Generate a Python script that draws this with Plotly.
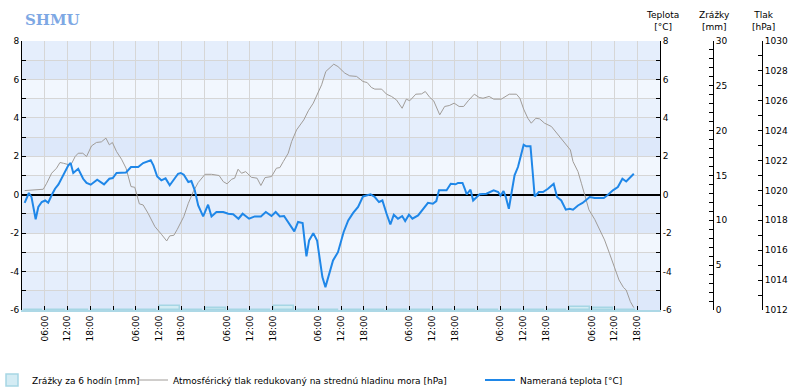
import plotly.graph_objects as go

# ---------------- data ----------------
temp_hours = [0.7, 1.8, 2.5, 3.2, 3.6, 4.3, 5.2, 6.1, 6.9, 7.8, 8.7, 9.6, 10.4, 11.3, 12.2, 12.8, 13.5, 14.8,
              16.1, 17, 18.1, 19.8, 21.6, 23, 23.9, 24.9, 27.4, 28.7, 30.6, 31.9, 33.9, 34.6, 35.6, 36.7, 37.8,
              38.9, 40, 41.1, 41.8, 42.6, 43.8, 44.6, 45.5, 46.4, 47.7, 49, 49.9, 51.2, 53, 54.3, 55.6, 57,
              58.1, 59.8, 61.3, 62.9, 64.2, 65.7, 66.8, 67.9, 69, 70.1, 71.7, 72.7, 73.9, 74.5, 74.9, 75.6,
              76.7, 77.7, 78.4, 79.1, 79.9, 80.9, 81.9, 83.2, 83.8, 84.7, 85.9, 87.2, 88.5, 89.8, 91.8, 92.9,
              94, 94.9, 96, 97, 97.9, 99, 100.1, 100.9, 101.9, 102.8, 104.3, 105.6, 106.9, 108.2, 109.1,
              109.8, 111.8, 112.9, 114.2, 114.8, 116, 116.6, 117.1, 118.1, 118.8, 120.5, 122.3, 124.2, 125.4,
              126.0, 126.8, 127.4, 128.2, 128.9, 129.7, 130.6, 131.5, 132.1, 132.8, 133.9, 134.4, 135, 136.1,
              137.2, 138.5, 140, 140.9, 142, 143.2, 144.2, 145.1, 146.4, 147.6, 149.5, 150.8, 153.2, 154.3,
              155.6, 156.9, 158.1, 159.1, 160.2, 161.1]
temp_values = [-0.42, 0.09, -0.12, -0.82, -1.28, -0.64, -0.38, -0.3, -0.42, -0.03, 0.31, 0.54, 0.83, 1.18,
               1.53, 1.65, 1.13, 1.35, 0.83, 0.61, 0.52, 0.78, 0.54, 0.83, 0.87, 1.13, 1.16, 1.44, 1.44, 1.65,
               1.79, 1.53, 0.95, 0.75, 0.85, 0.49, 0.78, 1.09, 1.13, 1.04, 0.66, 0.71, 0.23, -0.56, -1.13,
               -0.52, -1.13, -0.9, -0.9, -0.99, -1.02, -1.25, -0.99, -1.25, -1.13, -1.13, -0.9, -1.11, -0.9,
               -1.13, -1.11, -1.42, -1.91, -1.42, -1.48, -2.55, -3.21, -2.38, -2.0, -2.38, -3.42, -4.29, -4.81,
               -4.11, -3.42, -2.99, -2.6, -1.94, -1.34, -0.95, -0.64, -0.09, 0.02, -0.12, -0.38, -0.3, -0.99,
               -1.55, -1.04, -1.25, -1.11, -1.37, -1.04, -1.25, -1.08, -0.73, -0.42, -0.47, -0.33, 0.23, 0.23,
               0.57, 0.54, 0.61, 0.61, 0.31, 0.02, 0.26, -0.3, 0.02, 0.05, 0.23, 0.14, -0.05, 0.19, -0.12,
               -0.73, 0.09, 1.01, 1.44, 2.22, 2.6, 2.52, 2.52, 1.35, -0.09, 0.14, 0.14, 0.31, 0.57, -0.12,
               -0.3, -0.78, -0.73, -0.78, -0.56, -0.43, -0.12, -0.17, -0.17, 0.0, 0.23, 0.4, 0.83, 0.69,
               0.92, 1.09]

pres_hours = [0.7, 2.5, 5.6, 6.5, 7.8, 9.1, 10, 10.9, 12.5, 13.1, 14, 14.8, 16, 17, 18.3, 19.6, 20.9, 22.1,
              23, 23.8, 24.9, 26.2, 27.4, 28.7, 29.7, 30.9, 31.9, 33.2, 35, 36.7, 38.1, 38.9, 40, 40.9, 42,
              42.6, 43.8, 45.1, 46.4, 48.2, 49.9, 51.9, 53, 54, 55.2, 56, 56.9, 57.8, 58.9, 60.4, 61.9,
              62.9, 64, 65.7, 67, 67.9, 68.8, 70.1, 71, 72.3, 74.2, 75.4, 76.7, 77.7, 78.9, 80, 81.1, 82.1,
              83.2, 84.1, 85, 86.3, 88.1, 89.8, 90.9, 92, 92.9, 94.7, 96, 97.3, 98.6, 100.1, 101.2, 102.1,
              103.7, 105.2, 106.2, 107.4, 108.4, 110, 111.3, 112.5, 113.8, 115.1, 116.3, 117.5, 119.1,
              120.4, 121.4, 123, 124.2, 126.2, 127.1, 128.3, 130.2, 131.1, 132.1, 133.2, 134.1, 135.3,
              136.3, 137.6, 139.4, 140.7, 142, 143.3, 144.4, 145.1, 146.4, 147.3, 148.4, 149.3, 150.8,
              152.1, 153.4, 154.7, 156, 157.2, 158.4, 159.1, 160.2, 161.1]
pres_values = [1019.99, 1020.04, 1020.08, 1020.48, 1021.15, 1021.49, 1021.87, 1021.82, 1021.71, 1021.82,
               1022.27, 1022.49, 1022.49, 1022.27, 1022.98, 1023.21, 1023.25, 1023.5, 1023.05, 1023.21,
               1022.6, 1022.09, 1021.49, 1020.26, 1020.21, 1019.1, 1019.03, 1018.47, 1017.58, 1017.07,
               1016.62, 1016.96, 1017.0, 1017.4, 1017.92, 1018.25, 1019.14, 1019.92, 1020.53, 1021.08,
               1021.08, 1021.0, 1020.59, 1020.44, 1020.75, 1020.82, 1021.42, 1021.15, 1021.26, 1020.88,
               1020.82, 1020.33, 1020.86, 1020.93, 1021.49, 1021.53, 1021.93, 1022.49, 1023.27, 1024.05,
               1024.72, 1025.33, 1025.84, 1026.4, 1027.07, 1027.96, 1028.23, 1028.45, 1028.29, 1028.07,
               1027.85, 1027.67, 1027.63, 1027.29, 1027.22, 1026.89, 1026.78, 1026.78, 1026.44, 1026.29,
               1026.06, 1025.5, 1026.11, 1026.0, 1026.44, 1026.46, 1026.62, 1026.22, 1026.0, 1025.06,
               1025.62, 1025.68, 1025.84, 1025.62, 1025.62, 1026.0, 1026.44, 1026.22, 1026.17, 1026.29,
               1026.11, 1026.11, 1026.24, 1026.44, 1026.44, 1026.17, 1025.44, 1024.83, 1024.5, 1024.83,
               1024.79, 1024.5, 1024.28, 1023.88, 1023.5, 1023.05, 1022.71, 1021.93, 1021.26, 1020.48,
               1019.54, 1018.7, 1018.07, 1017.36, 1016.69, 1015.79, 1014.9, 1014.01, 1013.5, 1013.34,
               1012.56, 1012.16]

precip_hours = [3, 9, 15, 21, 27, 33, 39, 45, 51, 57, 63, 69, 75, 81, 87, 93, 99, 105, 111, 117, 123,
                129, 135, 141, 147, 153, 159]
precip_values = [0, 0, 0, 0, 0, 0, 0.5, 0, 0.2, 0, 0, 0.45, 0, 0, 0, 0, 0, 0, 0, 0, 0,
                 0, 0, 0, 0.35, 0.25, 0]

x_tick_hours = [0, 6, 12, 18, 24, 30, 36, 42, 48, 54, 60, 66, 72, 78, 84, 90, 96, 102, 108, 114, 120,
                126, 132, 138, 144, 150, 156, 162, 168]
x_tick_labels = ["", "06:00", "12:00", "18:00", "", "06:00", "12:00", "18:00", "", "06:00", "12:00",
                 "18:00", "", "06:00", "12:00", "18:00", "", "06:00", "12:00", "18:00", "", "06:00",
                 "12:00", "18:00", "", "06:00", "12:00", "18:00", ""]

temp_ticks = [-6, -4, -2, 0, 2, 4, 6, 8]
temp_tick_labels = ["-6", "-4", "-2", "0", "2", "4", "6", "8"]
precip_ticks = [0, 5, 10, 15, 20, 25, 30]
pres_ticks = [1012, 1014, 1016, 1018, 1020, 1022, 1024, 1026, 1028, 1030]

band_colors = ["#f2f7fe", "#eaf2fd", "#e5eefc", "#dde8fa"]

# ---------------- figure ----------------
FONT = "DejaVu Sans"
fs = 9
grid = "#d6d6d6"
W_AREA = 740.0
H_AREA = 269.0


def px_x(px):
    return (px - 22) / W_AREA


def px_y(py):
    return (310 - py) / H_AREA


fig = go.Figure()

fig.add_trace(go.Bar(
    x=precip_hours, y=precip_values, width=5.2, yaxis="y2", legend="legend",
    name="Zrážky za 6 hodín [mm]",
    marker=dict(color="#d4ecf4", line=dict(color="#a6d6e4", width=1.5)),
))
fig.add_trace(go.Scatter(
    x=pres_hours, y=pres_values, yaxis="y3", mode="lines", legend="legend2",
    name="Atmosférický tlak redukovaný na strednú hladinu mora [hPa]",
    line=dict(color="#a09c98", width=1),
))
fig.add_trace(go.Scatter(
    x=temp_hours, y=temp_values, yaxis="y4", mode="lines", legend="legend3",
    name="Nameraná teplota [°C]",
    line=dict(color="#1f87e8", width=2),
))

shapes = []
for k in range(14):
    lo = -6 + k
    idx = (6 - (lo + 1)) % 4
    shapes.append(dict(type="rect", xref="x domain", yref="y", x0=0, x1=1, y0=lo, y1=lo + 1,
                       fillcolor=band_colors[idx], line=dict(width=0), layer="below"))

xdom_end = 638 / W_AREA
common_minor = dict(tickmode="linear", tick0=0, dtick=1, ticks="inside", ticklen=4, tickcolor="black")


def leg(xpx):
    return dict(orientation="h", x=px_x(xpx), xanchor="left", y=px_y(380), yanchor="middle",
                font=dict(family=FONT, size=fs), itemwidth=30, bgcolor="rgba(0,0,0,0)",
                borderwidth=0)


fig.update_layout(
    width=791, height=388,
    margin=dict(l=22, r=29, t=41, b=78, autoexpand=False),
    paper_bgcolor="white", plot_bgcolor="white",
    font=dict(family=FONT, size=fs, color="black"),
    shapes=shapes,
    bargap=0,
    showlegend=True,
    legend=leg(-8),
    legend2=leg(133),
    legend3=leg(480),
    xaxis=dict(domain=[0, xdom_end], range=[0, 168], tickmode="array", automargin=False,
               tickvals=x_tick_hours, ticktext=x_tick_labels, tickangle=-90,
               ticks="inside", ticklen=4, tickcolor="black", showgrid=True, gridcolor=grid,
               gridwidth=1, showline=True, linecolor="#add8e6", linewidth=2, zeroline=False,
               tickfont=dict(size=fs)),
    yaxis=dict(range=[-6, 8], tickmode="array", tickvals=temp_ticks, ticktext=temp_tick_labels,
               automargin=False,
               ticks="inside", ticklen=4, tickcolor="black", showline=True, linecolor="black",
               linewidth=1, showgrid=True, gridcolor=grid, gridwidth=1,
               zeroline=True, zerolinecolor="black", zerolinewidth=1.5,
               minor=dict(**common_minor, showgrid=True, gridcolor=grid, gridwidth=1),
               tickfont=dict(size=fs)),
    yaxis4=dict(range=[-6, 8], overlaying="y", side="right", anchor="x", tickmode="array",
                automargin=False,
                tickvals=temp_ticks, ticktext=temp_tick_labels, ticks="inside", ticklen=4,
                tickcolor="black", showline=True, linecolor="black", linewidth=1,
                showgrid=False, zeroline=False, minor=dict(**common_minor), tickfont=dict(size=fs)),
    yaxis2=dict(range=[0, 30], overlaying="y", side="right", anchor="free", automargin=False,
                position=px_x(713), tickmode="array", tickvals=precip_ticks,
                ticks="inside", ticklen=4, tickcolor="black", showline=True, linecolor="black",
                linewidth=1, showgrid=False, zeroline=False, minor=dict(**common_minor),
                tickfont=dict(size=fs)),
    yaxis3=dict(range=[1012, 1030], overlaying="y", side="right", anchor="free", automargin=False,
                position=1.0, tickmode="array", tickvals=pres_ticks,
                ticks="inside", ticklen=4, tickcolor="black", showline=True, linecolor="black",
                linewidth=1, showgrid=False, zeroline=False,
                minor=dict(tickmode="linear", tick0=0, dtick=1, ticks="inside", ticklen=4,
                           tickcolor="black"),
                tickfont=dict(size=fs)),
)


def title_ann(text, xpx):
    return dict(text=text, xref="paper", yref="paper", x=px_x(xpx), y=px_y(34),
                xanchor="center", yanchor="bottom", showarrow=False,
                font=dict(family=FONT, size=fs, color="black"), align="center")


annotations = [
    title_ann("Teplota<br>[°C]", 662),
    title_ann("Zrážky<br>[mm]", 714),
    title_ann("Tlak<br>[hPa]", 763),
    dict(text="<b>SHMU</b>", xref="paper", yref="paper", x=px_x(52), y=px_y(20),
         xanchor="center", yanchor="middle", showarrow=False,
         font=dict(family="DejaVu Serif", size=15, color="#7ea8e4")),
]
fig.update_layout(annotations=annotations)

fig.write_html("out.html", config={"displayModeBar": False},
               post_script="document.body.style.margin='0px';")
